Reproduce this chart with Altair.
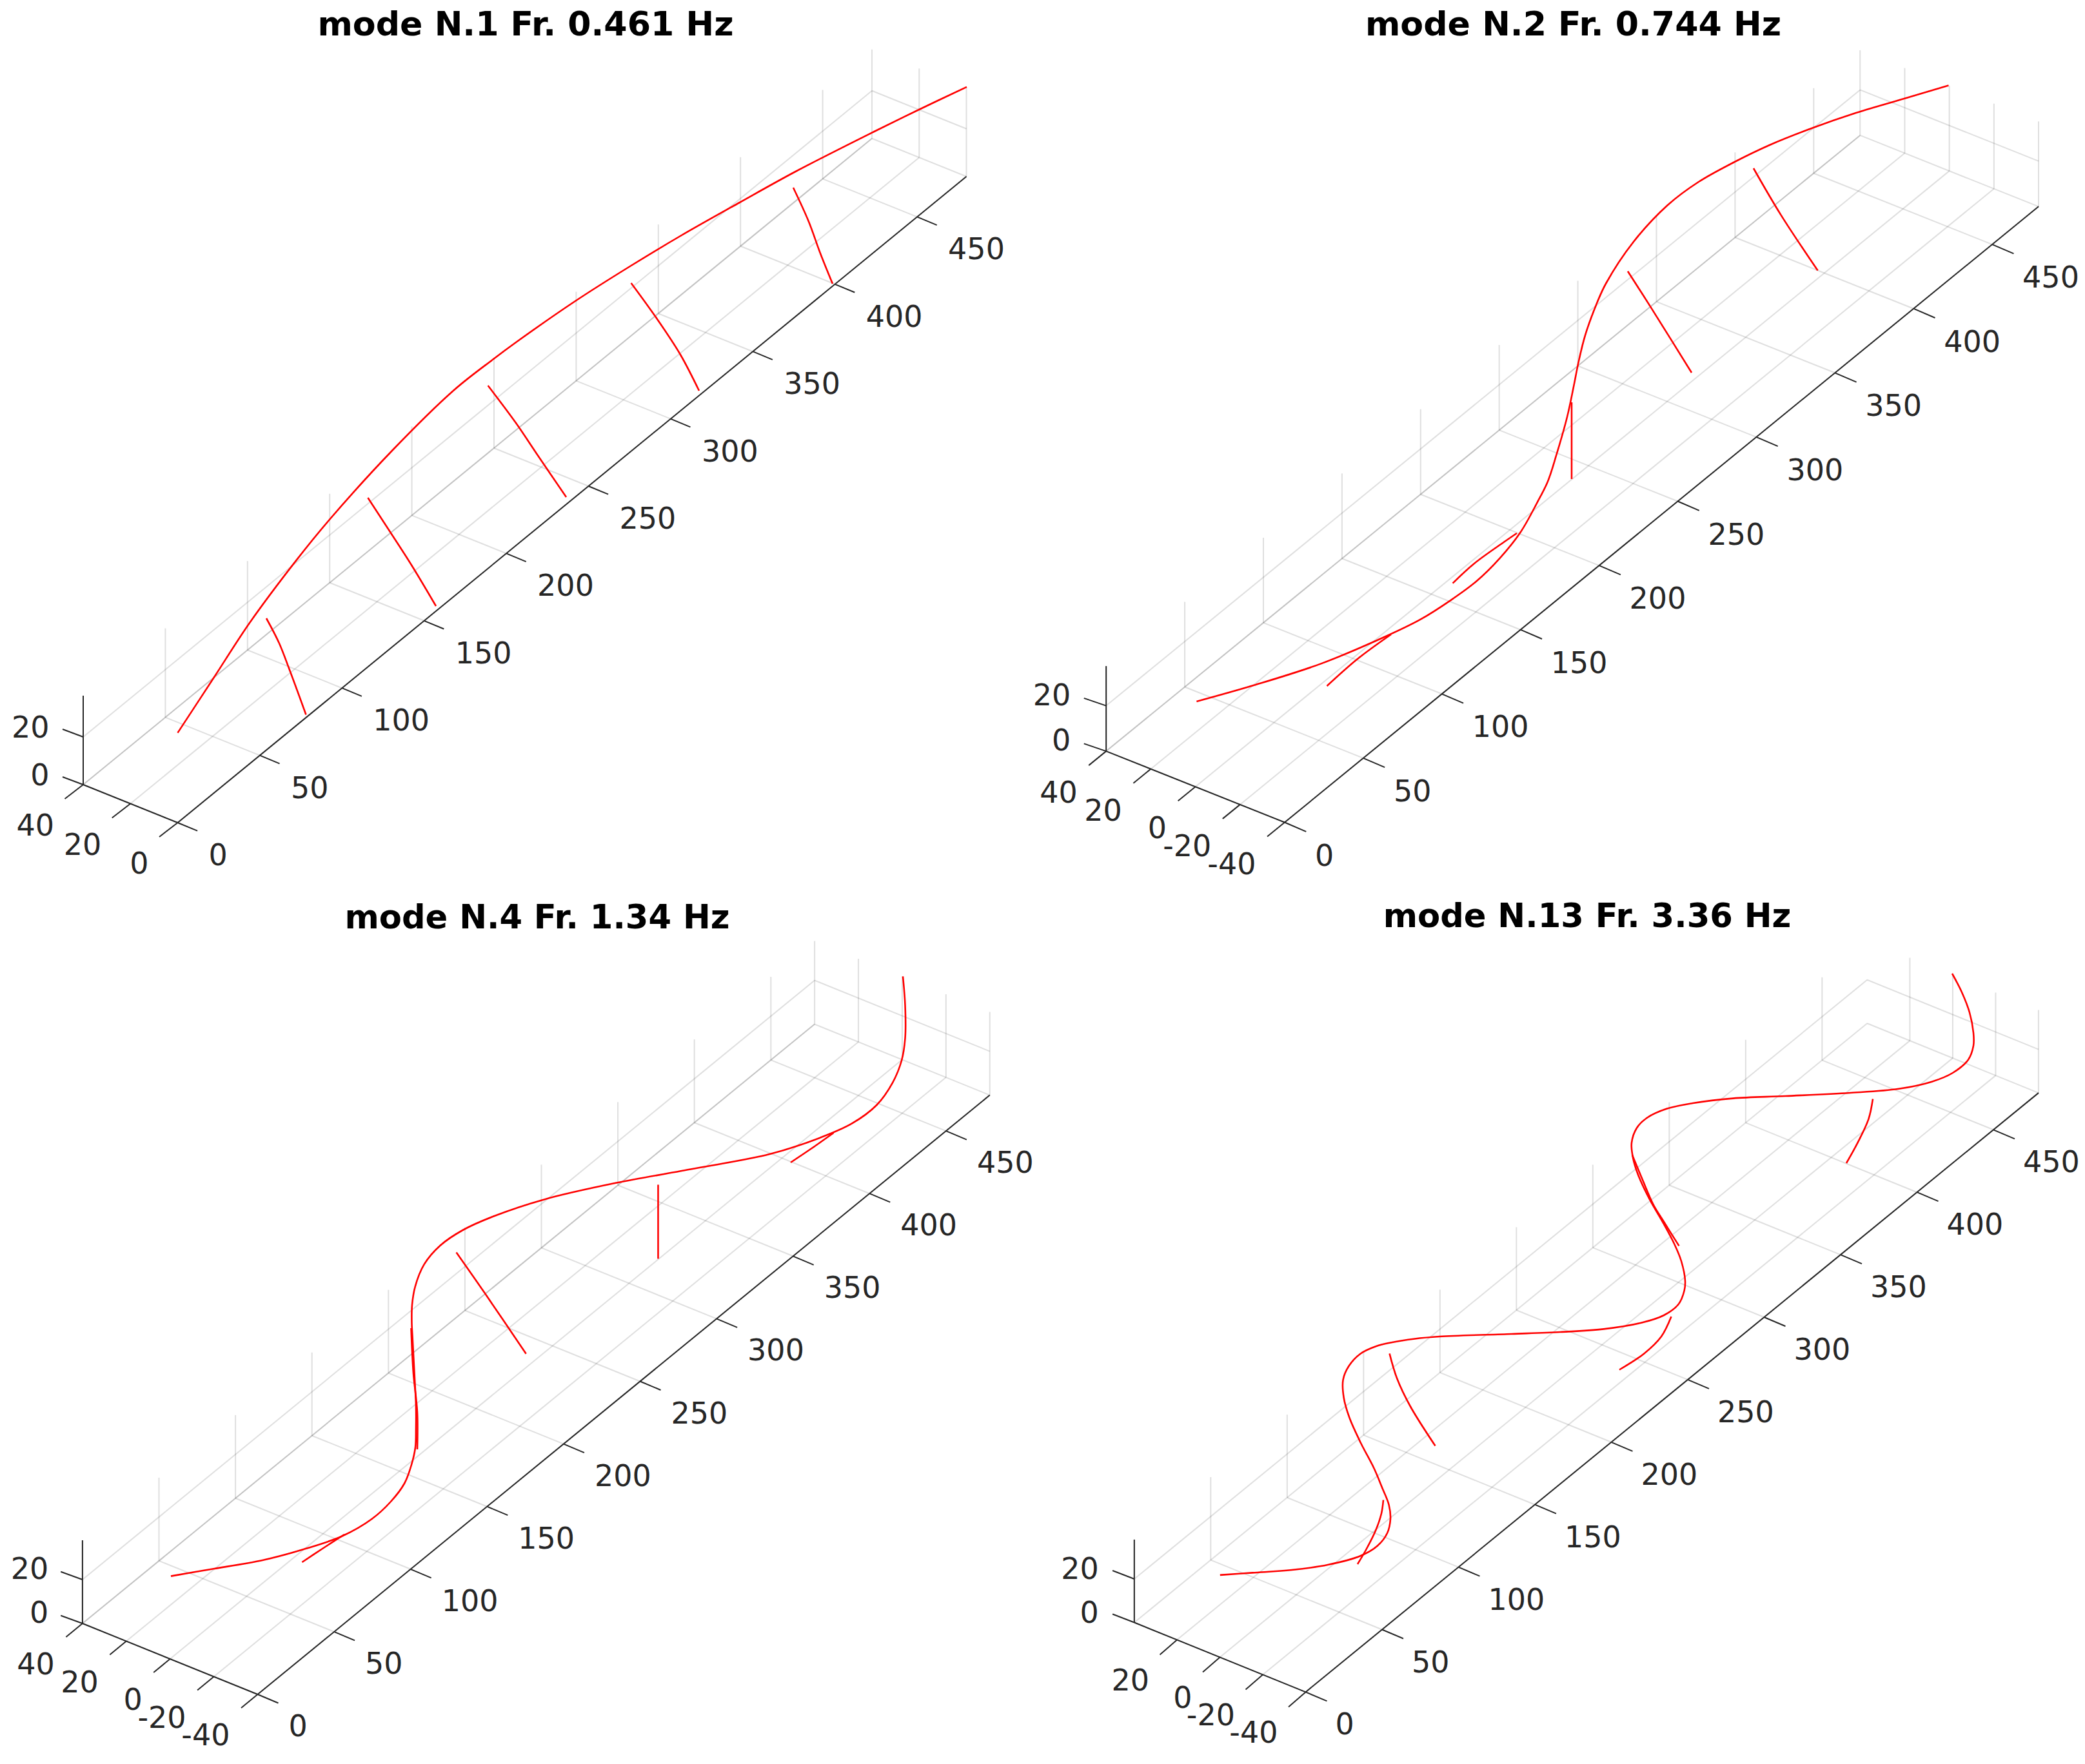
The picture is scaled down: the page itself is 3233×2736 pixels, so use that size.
import altair as alt
import pandas as pd

FONT = "DejaVu Sans"
INK = "#262626"
X_TICKS = [0, 50, 100, 150, 200, 250, 300, 350, 400, 450]
Z_TICKS = [0, 20]

titles = ["mode N.1 Fr. 0.461 Hz", "mode N.2 Fr. 0.744 Hz", "mode N.4 Fr. 1.34 Hz", "mode N.13 Fr. 3.36 Hz"]

# Mode shapes as they appear in the picture: a list of (x, y) polylines per panel.
p1_curves = [
    [(275.5,1136.6),(331.6,1051),(387.8,965),(459,869.6),(510,807),(607,700),(704,605),(765,557),(800,531),(892,467),(978.6,412),(1055,366),(1147,314),(1233.7,266),(1353.6,205),(1425,170),(1499,134.8)],
    [(413,959),(432.6,997),(449,1039),(474.5,1108.5)],
    [(570.4,772),(602,820.5),(637.8,876),(676,940)],
    [(756.6,598),(800,656),(833,705),(878,771)],
    [(978.6,439),(1019.4,495.5),(1055,550),(1084,606)],
    [(1230,291),(1254,343.7),(1272,393),(1291,440)],
]
p2_curves = [
    [(1855.4,1088),(1944.4,1062.8),(2047.7,1029.6),(2151,986),(2202.7,960.7),(2248.6,931.6),(2288.8,902),(2326,865.3),(2357.7,825.5),(2383.5,779.6),(2400,746.7),(2413,706.7),(2430,646.7),(2440,600),(2448,560),(2458,520),(2475,473),(2490,440),(2533,375),(2586,318),(2634,282),(2687,252.5),(2745,224.5),(2809,199),(2878,175),(2952.5,153),(3021.5,132.6)],
    [(2057.5,1064),(2105,1022),(2157,984)],
    [(2252.6,904.6),(2286,874),(2332,840.8),(2352,827)],
    [(2437,624),(2437,743)],
    [(2524,420.7),(2559,475.4),(2623,578)],
    [(2719,261),(2761,332.6),(2818.6,419.6)],
]
p3_curves = [
    [(265,2444.6),(326.5,2434),(408,2419.7),(469,2403.5),(530.6,2382.5),(576.5,2356),(606,2329),(627,2301),(638,2272),(644,2245),(645,2215),(645,2181),(642.5,2128.7),(639.5,2071.9),(638.5,2052.7),(639,2024),(643.8,1995.3),(657.8,1960.9),(682.4,1932),(717.5,1908),(766.6,1886),(843.7,1860.4),(956,1834.6),(1075,1812.8),(1194.5,1789.8),(1271.7,1764.6),(1320.8,1742.7),(1359.3,1714),(1383.9,1679.6),(1398,1645),(1403.5,1610.7),(1403.5,1559),(1400,1514.3)],
    [(468.4,2423),(500,2402),(534,2380)],
    [(637.5,2060),(641,2130),(647,2190),(647,2248)],
    [(707.6,1942.5),(752.5,2006.8),(815.7,2099.8)],
    [(1020.5,1837.5),(1020.5,1952.3)],
    [(1226,1803),(1257.6,1781.8),(1292.7,1757)],
]
p4_curves = [
    [(1891.8,2442.9),(1941.8,2439.4),(2003,2435),(2059,2427),(2110,2413),(2135.7,2397.8),(2151,2378),(2156,2356),(2153.6,2334),(2143.4,2308),(2130.6,2277.5),(2110,2238),(2092.4,2198.8),(2083.7,2168),(2082.6,2140),(2091.5,2118.8),(2109.4,2099.7),(2134,2088),(2156,2082.5),(2192,2076.7),(2232,2073),(2343.7,2069),(2419.6,2066),(2486.6,2061.4),(2544.6,2051.8),(2580,2040),(2602.6,2023),(2611.6,2002),(2613,1986.8),(2607,1956),(2596,1929),(2578,1895),(2558,1860.5),(2540,1822),(2532,1795.4),(2530,1772.5),(2538,1749.5),(2553.5,1734),(2584.8,1719.6),(2625,1711),(2687,1703.6),(2768.8,1700),(2869,1695),(2944,1688.8),(2995.6,1677.7),(3028,1664),(3051.7,1644),(3060,1622),(3060,1601.8),(3054,1570.5),(3042,1539),(3027,1510)],
    [(2105,2426),(2118,2404),(2133,2374),(2142,2347.5),(2145,2326.5)],
    [(2154.6,2099.4),(2166,2137.5),(2186.7,2181),(2225.5,2242.5)],
    [(2511,2124.5),(2549,2099.7),(2576,2073),(2591.5,2042)],
    [(2531,1791.6),(2547,1830),(2563.5,1868),(2580,1895),(2603.5,1932.4)],
    [(2904,1704.5),(2897.4,1735.7),(2881,1771.4),(2863,1804)],
]

# View of each panel: where the axes fall on the page.
panels = [
    dict(title=(815, 55), tfs=52.2, dom=(8, 1616, 8, 1368), near=(275.5, 1276), ex=(127.4, -104.4), ey=(-73.25, -29.5),
         z20=74, ztop=138, xmax=480, ynear=0, yfar=40, yt=[0, 20, 40],
         tx=(30.6, 12.7), ty=(-28.5, 22), tz=(-32, -12), lx=(48, 49), ly=(-45, 62), lz=(-52.5, -16), curves=p1_curves),
    dict(title=(2439.5, 55), tfs=52.2, dom=(1616, 3225, 8, 1368), near=(1992, 1275.5), ex=(121.9, -99.6), ey=(-69.2, -27.6),
         z20=70.5, ztop=132, xmax=479.5, ynear=-40, yfar=40, yt=[-40, -20, 0, 20, 40],
         tx=(33.3, 14.3), ty=(-27, 22), tz=(-34.4, -11.7), lx=(47, 50), ly=(-44.5, 63), lz=(-55, -18), curves=p2_curves),
    dict(title=(833, 1440), tfs=51.2, dom=(8, 1616, 1368, 2728), near=(399.5, 2628), ex=(118.6, -97.1), ey=(-67.9, -27.5),
         z20=68, ztop=129, xmax=478.6, ynear=-40, yfar=40, yt=[-40, -20, 0, 20, 40],
         tx=(32, 13.5), ty=(-25.5, 21), tz=(-33.7, -12.2), lx=(48, 48), ly=(-43, 62), lz=(-52.5, -18), curves=p3_curves),
    dict(title=(2461, 1438), tfs=51.2, dom=(1616, 3225, 1368, 2728), near=(2024.5, 2624.4), ex=(118.5, -96.9), ey=(-66.5, -27),
         z20=67.5, ztop=128.6, xmax=479.5, ynear=-40, yfar=39.9, yt=[-40, -20, 0, 20],
         tx=(33, 14), ty=(-26.5, 23), tz=(-33.7, -13), lx=(46, 49), ly=(-43, 62), lz=(-55, -17), curves=p4_curves),
]


def make_panel(p, title):
    def pt(x, y, z=0):
        s = (y - p["ynear"]) / 20
        return (p["near"][0] + x / 50 * p["ex"][0] + s * p["ey"][0],
                p["near"][1] + x / 50 * p["ex"][1] + s * p["ey"][1] - z / 20 * p["z20"])

    xm, yf = p["xmax"], p["yfar"]
    zm = p["ztop"] / p["z20"] * 20
    seg = lambda a, b: dict(x=a[0], y=a[1], x2=b[0], y2=b[1])

    grid = []
    for x in X_TICKS:
        grid.append(seg(pt(x, p["ynear"]), pt(x, yf)))
        grid.append(seg(pt(x, yf), pt(x, yf, zm)))
    for y in p["yt"]:
        grid.append(seg(pt(0, y), pt(xm, y)))
        grid.append(seg(pt(xm, y), pt(xm, y, zm)))
    for z in Z_TICKS:
        grid.append(seg(pt(0, yf, z), pt(xm, yf, z)))
        grid.append(seg(pt(xm, yf, z), pt(xm, p["ynear"], z)))

    ink = [seg(pt(0, p["ynear"]), pt(xm, p["ynear"])),
           seg(pt(0, p["ynear"]), pt(0, yf)),
           seg(pt(0, yf), pt(0, yf, zm))]
    xl, yl, zl = [], [], []
    for x in X_TICKS:
        a = pt(x, p["ynear"])
        ink.append(seg(a, (a[0] + p["tx"][0], a[1] + p["tx"][1])))
        xl.append(dict(x=a[0] + p["lx"][0], y=a[1] + p["lx"][1] + 17, t=str(x)))
    for y in p["yt"]:
        a = pt(0, y)
        ink.append(seg(a, (a[0] + p["ty"][0], a[1] + p["ty"][1])))
        yl.append(dict(x=a[0] + p["ly"][0], y=a[1] + p["ly"][1] + 17, t=str(y)))
    for z in Z_TICKS:
        a = pt(0, yf, z)
        ink.append(seg(a, (a[0] + p["tz"][0], a[1] + p["tz"][1])))
        zl.append(dict(x=a[0] + p["lz"][0], y=a[1] + p["lz"][1] + 17, t=str(z)))

    shape = pd.DataFrame([dict(c=c, i=i, x=q[0], y=q[1])
                          for c, line in enumerate(p["curves"]) for i, q in enumerate(line)])

    sx = alt.Scale(domain=[p["dom"][0], p["dom"][1]], nice=False, zero=False)
    sy = alt.Scale(domain=[p["dom"][3], p["dom"][2]], nice=False, zero=False)
    X = alt.X("x:Q", scale=sx, axis=None)
    Y = alt.Y("y:Q", scale=sy, axis=None)

    def rules(rows, **kw):
        return alt.Chart(pd.DataFrame(rows)).mark_rule(**kw).encode(x=X, y=Y, x2="x2:Q", y2="y2:Q")

    def texts(rows, **kw):
        return alt.Chart(pd.DataFrame(rows)).mark_text(font=FONT, baseline="alphabetic", **kw).encode(x=X, y=Y, text="t:N")

    return alt.layer(
        rules(grid, stroke=INK, strokeOpacity=0.15, strokeWidth=2),
        rules(ink, stroke=INK, strokeWidth=2),
        alt.Chart(shape).mark_line(color="#ff0000", strokeWidth=2.6, interpolate="catmull-rom", strokeCap="butt").encode(
            x=X, y=Y, detail="c:N", order="i:Q"),
        texts(xl, align="left", fontSize=46, color=INK),
        texts(yl + zl, align="right", fontSize=46, color=INK),
        texts([dict(x=p["title"][0], y=p["title"][1], t=title)], align="center", fontSize=p["tfs"], fontWeight="bold", color="#000000"),
    ).properties(width=p["dom"][1] - p["dom"][0], height=p["dom"][3] - p["dom"][2])


chart = (
    alt.concat(*[make_panel(p, t) for p, t in zip(panels, titles)], columns=2, spacing=0, bounds="flush")
    .properties(padding=0, background="#ffffff")
    .configure_view(stroke=None)
)

chart.save("out.html", embed_options={"renderer": "svg", "actions": False})
